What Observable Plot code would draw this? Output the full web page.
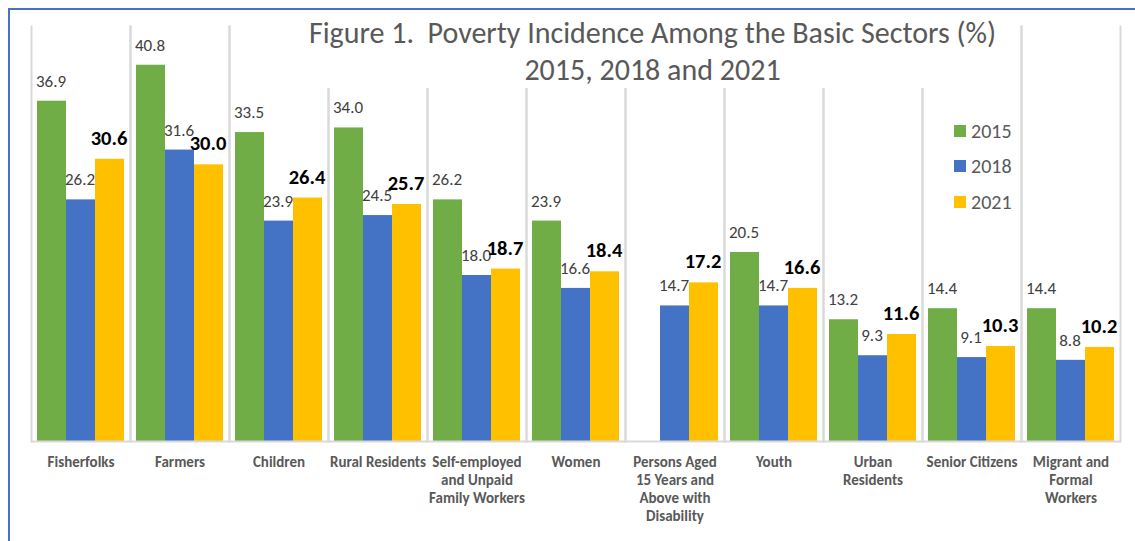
<!DOCTYPE html>
<html>
<head>
<meta charset="utf-8">
<script src="https://cdn.jsdelivr.net/npm/d3@7"></script>
<script src="https://cdn.jsdelivr.net/npm/@observablehq/plot@0.6"></script>
<style>
  html, body { margin: 0; padding: 0; background: #fff; overflow: hidden; }
  #wrap { position: relative; width: 1135px; height: 541px; overflow: hidden; font-family: Carlito, Calibri, Lato, sans-serif; }
  #border { position: absolute; left: 8px; top: 8px; width: 1150px; height: 600px; border: 2px solid #4472C4; box-sizing: border-box; }
  #chart { position: absolute; left: 0; top: 0; }
  #title { position: absolute; left: 295px; top: 14px; width: 715px; text-align: center; background: #fff;
           color: #595959; font-size: 30px; line-height: 37px; white-space: nowrap; }
  #legend { position: absolute; left: 954px; top: 113px; color: #595959; font-size: 20px; }
  #legend .row { display: flex; align-items: center; height: 35.5px; }
  #legend .sw { width: 12px; height: 12px; margin-right: 5px; }
</style>
</head>
<body>
<div id="wrap">
  <div id="border"></div>
  <div id="chart"></div>
  <div id="title">Figure 1.&nbsp; Poverty Incidence Among the Basic Sectors (%)<br>2015, 2018 and 2021</div>
  <div id="legend"></div>
</div>
<script>
const categories = ["Fisherfolks", "Farmers", "Children", "Rural Residents", "Self-employed", "Women",
  "Persons Aged", "Youth", "Urban Residents", "Senior Citizens", "Migrant and Formal Workers"];
const categoryLabels = ["Fisherfolks", "Farmers", "Children", "Rural Residents",
  "Self-employed\nand Unpaid\nFamily Workers", "Women",
  "Persons Aged\n15 Years and\nAbove with\nDisability", "Youth", "Urban\nResidents",
  "Senior Citizens", "Migrant and\nFormal\nWorkers"];
const years = ["2015", "2018", "2021"];
const colors = ["#70AD47", "#4472C4", "#FFC000"];
const values2015 = [36.9, 40.8, 33.5, 34.0, 26.2, 23.9, null, 20.5, 13.2, 14.4, 14.4];
const values2018 = [26.2, 31.6, 23.9, 24.5, 18.0, 16.6, 14.7, 14.7, 9.3, 9.1, 8.8];
const values2021 = [30.6, 30.0, 26.4, 25.7, 18.7, 18.4, 17.2, 16.6, 11.6, 10.3, 10.2];

const series = [values2015, values2018, values2021];
const data = [];
categories.forEach((c, i) => {
  years.forEach((y, j) => {
    const v = series[j][i];
    if (v != null) data.push({cat: c, year: y, value: v});
  });
});
const labelOf = new Map(categories.map((c, i) => [c, categoryLabels[i]]));

const chart = Plot.plot({
  width: 1135,
  height: 541,
  marginTop: 26,
  marginBottom: 100,
  marginLeft: 28,
  marginRight: 13,
  style: {fontFamily: "Carlito, Calibri, Lato, sans-serif", background: "transparent"},
  fx: {domain: categories, padding: 0, axis: null},
  x: {domain: years, paddingInner: 0, paddingOuter: 0.16, axis: null},
  y: {domain: [0, 45], axis: null},
  color: {domain: years, range: colors},
  marks: [
    Plot.frame({anchor: "left", stroke: "#D9D9D9", strokeWidth: 2}),
    Plot.frame({anchor: "right", stroke: "#D9D9D9", strokeWidth: 2}),
    Plot.barY(data, {fx: "cat", x: "year", y: "value", fill: "year"}),
    Plot.ruleY([0], {stroke: "#D9D9D9", strokeWidth: 2}),
    Plot.text(data.filter(d => d.year !== "2021"), {
      fx: "cat", x: "year", y: "value", text: d => d.value.toFixed(1),
      dy: -20, dx: -1, fill: "#404040", fontSize: 17
    }),
    Plot.text(data.filter(d => d.year === "2021"), {
      fx: "cat", x: "year", y: "value", text: d => d.value.toFixed(1),
      dy: -21, dx: -1, fill: "#000", fontSize: 20.5, fontWeight: "bold"
    }),
    Plot.axisFx({
      anchor: "bottom", tickSize: 0, tickPadding: 12, label: null, tickFormat: d => labelOf.get(d),
      fontSize: 15, fontWeight: "bold", fill: "#595959", lineHeight: 1.22, textOverflow: null, lineWidth: Infinity
    })
  ]
});
document.getElementById("chart").appendChild(chart);

const legend = d3.select("#legend");
years.forEach((y, i) => {
  const row = legend.append("div").attr("class", "row");
  row.append("div").attr("class", "sw").style("background", colors[i]);
  row.append("span").text(y);
});
</script>
</body>
</html>
